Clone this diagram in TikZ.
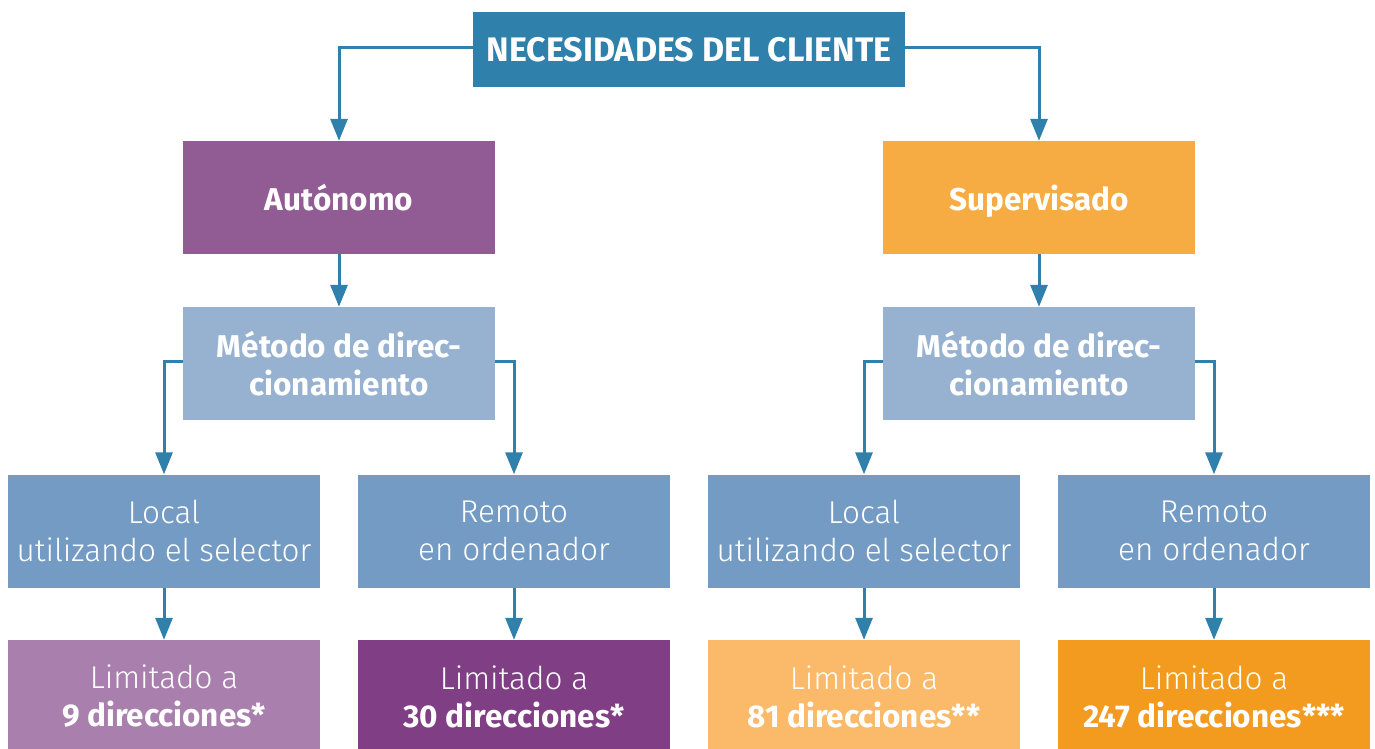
\documentclass[tikz,border=0pt]{standalone}
\usepackage{fontspec}
\setmainfont{Fira Sans}
\newfontfamily\lightfont{Fira Sans Light}
\usetikzlibrary{arrows.meta}
\definecolor{cTop}{HTML}{3080AC}
\definecolor{cAut}{HTML}{915B93}
\definecolor{cSup}{HTML}{F6AB43}
\definecolor{cMet}{HTML}{97B1D0}
\definecolor{cLev}{HTML}{739BC3}
\definecolor{cLa}{HTML}{A97FAE}
\definecolor{cLb}{HTML}{803F85}
\definecolor{cLc}{HTML}{FABA69}
\definecolor{cLd}{HTML}{F39B1E}
\tikzset{
  box/.style={rectangle, inner sep=0pt, minimum width=312pt, minimum height=113pt, text=white, align=center},
  boldtxt/.style={font=\fontsize{31.5}{38}\selectfont\bfseries},
  lighttxt/.style={font=\fontsize{31.5}{38}\selectfont\lightfont},
  conn/.style={draw=cTop, line width=3pt, -{Triangle[length=22pt,width=17pt]}},
}
\begin{document}
\begin{tikzpicture}[x=1pt,y=-1pt]
\useasboundingbox (0,0) rectangle (1375,749);
\node[box, fill=cTop, minimum width=432pt, minimum height=75pt, text depth=0pt, font=\fontsize{34}{38}\selectfont\bfseries] (top) at (689,49.5) {NECESIDADES DEL CLIENTE};
\node[box, fill=cAut, boldtxt, text depth=0pt] (aut) at (339,197.5) {Autónomo};
\node[box, fill=cSup, boldtxt, text depth=0pt] (sup) at (1039,197.5) {Supervisado};
\node[box, fill=cMet, boldtxt] (meta) at (339,363.5) {Método de direc-\\cionamiento};
\node[box, fill=cMet, boldtxt] (metb) at (1039,363.5) {Método de direc-\\cionamiento};
\node[box, fill=cLev, lighttxt] (la) at (164,531) {Local\\utilizando el selector};
\node[box, fill=cLev, lighttxt] (lb) at (514,531) {Remoto\\en ordenador};
\node[box, fill=cLev, lighttxt] (lc) at (864,531) {Local\\utilizando el selector};
\node[box, fill=cLev, lighttxt] (ld) at (1214,531) {Remoto\\en ordenador};
\node[box, fill=cLa, lighttxt] (ra) at (164,696.5) {Limitado a\\{\normalfont\bfseries 9 direcciones*}};
\node[box, fill=cLb, lighttxt] (rb) at (514,696.5) {Limitado a\\{\normalfont\bfseries 30 direcciones*}};
\node[box, fill=cLc, lighttxt] (rc) at (864,696.5) {Limitado a\\{\normalfont\bfseries 81 direcciones**}};
\node[box, fill=cLd, lighttxt] (rd) at (1214,696.5) {Limitado a\\{\normalfont\bfseries 247 direcciones***}};
\draw[conn] ([yshift=1.5pt]top.west) -| (aut.north);
\draw[conn] ([yshift=1.5pt]top.east) -| (sup.north);
\draw[conn] (aut) -- (meta);
\draw[conn] (sup) -- (metb);
\draw[conn] ([yshift=2.5pt]meta.west) -| (la.north);
\draw[conn] ([yshift=2.5pt]meta.east) -| (lb.north);
\draw[conn] ([yshift=2.5pt]metb.west) -| (lc.north);
\draw[conn] ([yshift=2.5pt]metb.east) -| (ld.north);
\draw[conn] (la) -- (ra);
\draw[conn] (lb) -- (rb);
\draw[conn] (lc) -- (rc);
\draw[conn] (ld) -- (rd);
\end{tikzpicture}
\end{document}
